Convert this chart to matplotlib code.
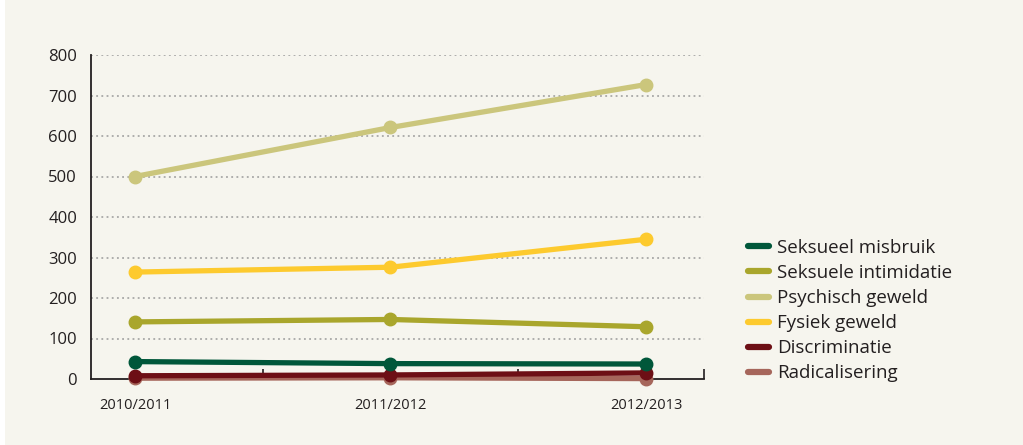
import matplotlib.pyplot as plt
from matplotlib.patches import Rectangle
from matplotlib.lines import Line2D

# Meldingen per schooljaar
years = ['2010/2011', '2011/2012', '2012/2013']
categories = ['Seksueel misbruik', 'Seksuele intimidatie', 'Psychisch geweld',
              'Fysiek geweld', 'Discriminatie', 'Radicalisering']
seksueel_misbruik = [43, 38, 37]
seksuele_intimidatie = [141, 147, 129]
psychisch_geweld = [500, 621, 727]
fysiek_geweld = [264, 276, 345]
discriminatie = [8, 10, 15]
radicalisering = [2, 3, 1]
yticks = [0, 100, 200, 300, 400, 500, 600, 700, 800]

series = [seksueel_misbruik, seksuele_intimidatie, psychisch_geweld,
          fysiek_geweld, discriminatie, radicalisering]
colors = ['#00573a', '#a9a62c', '#cbc67c', '#fdca2e', '#6d0f15', '#a6665b']

bg = '#f6f5ee'
text_col = '#231f20'
plt.rcParams['font.family'] = ['Open Sans', 'DejaVu Sans']

fig = plt.figure(figsize=(10.23, 4.45), dpi=100, facecolor=bg)
fig.add_artist(Rectangle((0, 0), 5 / 1023, 1, transform=fig.transFigure,
                         facecolor='white', edgecolor='none'))
ax = fig.add_axes([91 / 1023, 1 - 379 / 445, (704 - 91) / 1023, (379 - 55) / 445])
ax.set_facecolor(bg)

x = list(range(len(years)))
# draw bottom series first so the upper ones sit on top
for i in reversed(range(len(series))):
    ax.plot(x, series[i], color=colors[i], lw=3.8, marker='o', ms=9,
            solid_capstyle='round', clip_on=False, zorder=3 + (len(series) - i))

ax.set_xlim(-0.172, 2.227)
ax.set_ylim(0, 800)
ax.set_yticks(yticks)
ax.set_yticklabels([str(v) for v in yticks], fontsize=12, color=text_col)
ax.set_xticks(x)
ax.set_xticklabels(years, fontsize=10.5, color=text_col)
ax.tick_params(axis='x', length=0, pad=14)
ax.tick_params(axis='y', length=0, pad=10)
ax.set_xticks([0.5, 1.5, 2.227], minor=True)
ax.tick_params(axis='x', which='minor', direction='in', length=7, width=1.2,
               color=text_col)

for v in yticks[1:]:
    ax.axhline(v, color='#9a9a9a', lw=1.1, ls=(0, (1.2, 2.2)), zorder=1)

for side in ['top', 'right']:
    ax.spines[side].set_visible(False)
for side in ['left', 'bottom']:
    ax.spines[side].set_color(text_col)
    ax.spines[side].set_linewidth(1.3)

leg_handles = [Line2D([0], [0], color=c, lw=4.5, solid_capstyle='round') for c in colors]
fig.legend(leg_handles, categories, loc='upper left',
           bbox_to_anchor=(731 / 1023, 1 - 222 / 445), frameon=False,
           fontsize=13.5, handlelength=1.1, handletextpad=0.45,
           labelspacing=0.38, labelcolor=text_col)

fig.savefig('out.png', dpi=100, facecolor=bg)
